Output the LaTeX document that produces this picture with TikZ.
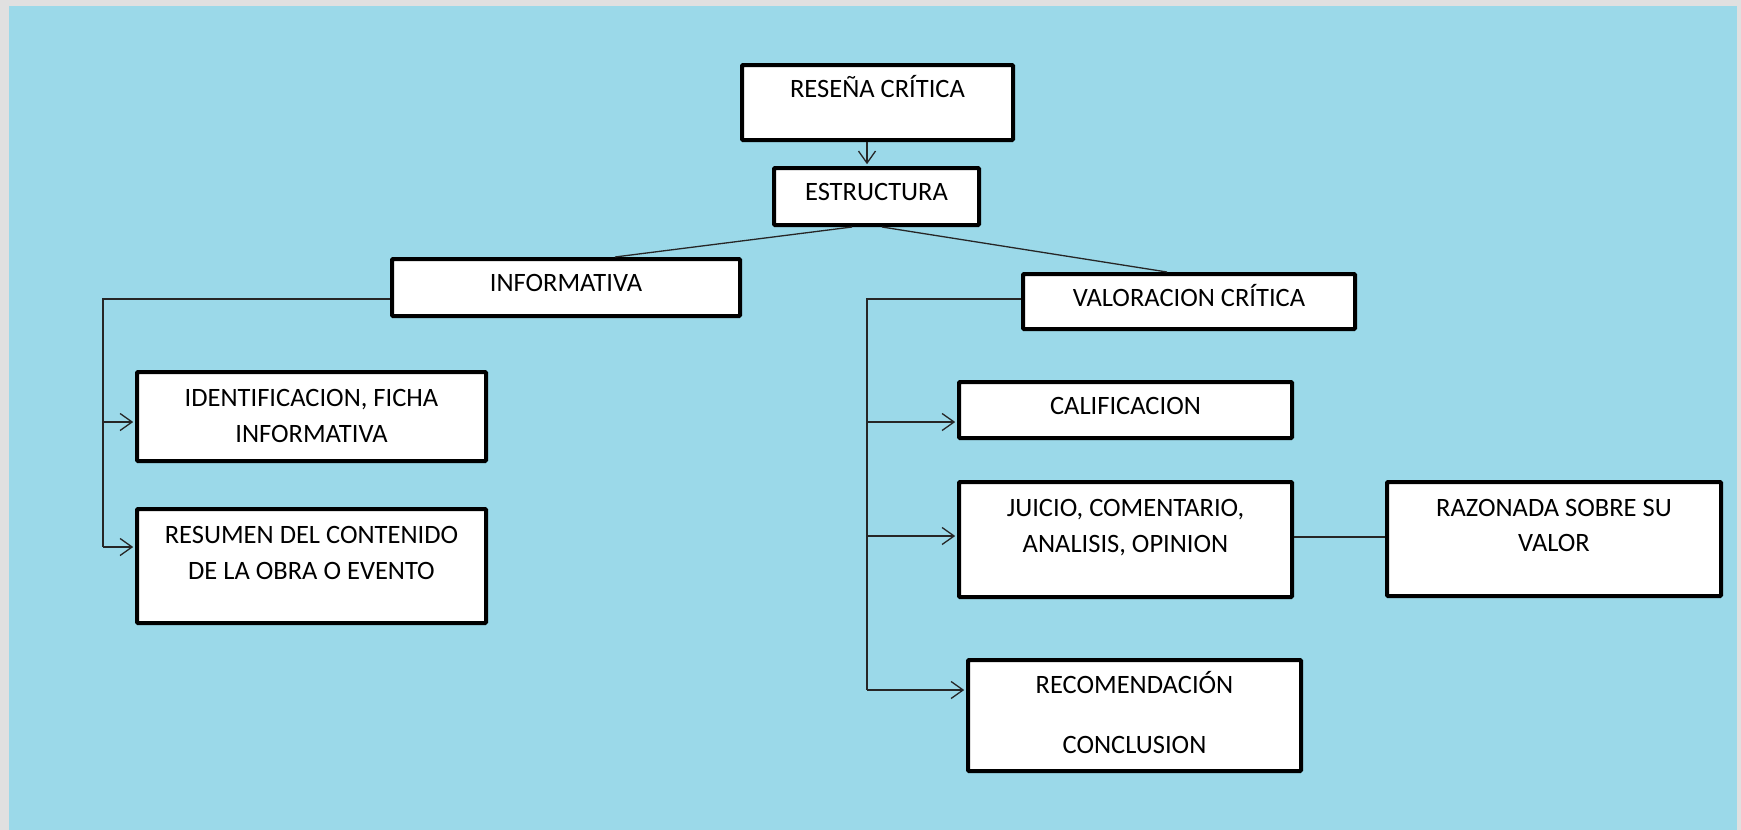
\documentclass[tikz,border=0pt]{standalone}
\usepackage{fontspec}
\setmainfont{Carlito}
\usetikzlibrary{arrows.meta,calc}
\definecolor{bgblue}{RGB}{155,217,233}
\definecolor{framegray}{RGB}{224,224,224}
\begin{document}
\begin{tikzpicture}[x=1pt,y=-1pt,
  box/.style={draw=black, line width=4pt, fill=white, rectangle, rounded corners=1pt, inner sep=0pt},
  txt/.style={anchor=base, inner sep=0pt, font=\fontsize{26.5}{30}\selectfont, text=black},
  conn/.style={line width=1.3pt, draw=black!85},
  arr/.style={conn, shorten >=1.8pt, -{Straight Barb[length=12pt,width=17pt]}}]
\useasboundingbox (0,0) rectangle (1741,830);
\fill[framegray] (0,0) rectangle (1741,830);
\fill[bgblue] (9,6) rectangle (1737,830);

% boxes
\node[box, minimum width=271pt, minimum height=75pt]  (resena) at (877.5,102.5) {};
\node[box, minimum width=205pt, minimum height=57pt]  (estr)   at (876.5,196.5) {};
\node[box, minimum width=348pt, minimum height=57pt]  (inf)    at (566,287.5) {};
\node[box, minimum width=349pt, minimum height=89pt]  (ident)  at (311.5,416.5) {};
\node[box, minimum width=349pt, minimum height=114pt] (resum)  at (311.5,566) {};
\node[box, minimum width=332pt, minimum height=55pt]  (valor)  at (1189,301.5) {};
\node[box, minimum width=333pt, minimum height=56pt]  (calif)  at (1125.5,410) {};
\node[box, minimum width=333pt, minimum height=115pt] (juicio) at (1125.5,539.5) {};
\node[box, minimum width=334pt, minimum height=114pt] (razon)  at (1554,539) {};
\node[box, minimum width=333pt, minimum height=111pt] (recom)  at (1134.5,715.5) {};

% texts
\node[txt] (t1)  at (877.5,97)  {RESEÑA CRÍTICA};
\node[txt] (t2)  at (876.5,200) {ESTRUCTURA};
\node[txt] (t3)  at (566,291)   {INFORMATIVA};
\node[txt] (t4a) at (311.5,406) {IDENTIFICACION, FICHA};
\node[txt] (t4b) at (311.5,442) {INFORMATIVA};
\node[txt] (t5a) at (311.5,543) {RESUMEN DEL CONTENIDO};
\node[txt] (t5b) at (311.5,579) {DE LA OBRA O EVENTO};
\node[txt] (t6)  at (1189,306)  {VALORACION CRÍTICA};
\node[txt] (t7)  at (1125.5,414) {CALIFICACION};
\node[txt] (t8a) at (1125.5,516) {JUICIO, COMENTARIO,};
\node[txt] (t8b) at (1125.5,552) {ANALISIS, OPINION};
\node[txt] (t9a) at (1554,516)  {RAZONADA SOBRE SU};
\node[txt] (t9b) at (1554,551)  {VALOR};
\node[txt] (t10a) at (1134.5,693) {RECOMENDACIÓN};
\node[txt] (t10b) at (1134.5,753) {CONCLUSION};

% helper coordinates
\coordinate (xa) at (867,0);
\coordinate (el) at (852,0);
\coordinate (er) at (882,0);
\coordinate (il) at (615,0);
\coordinate (vr) at (1167,0);
\coordinate (lt) at (103,299);
\coordinate (la1) at (103,422);
\coordinate (la2) at (103,547);
\coordinate (rt) at (867,299);
\coordinate (ra1) at (867,422);
\coordinate (ra2) at (867,536);
\coordinate (ra3) at (867,690);
\coordinate (jr) at (0,537);

% connectors
\draw[arr] (resena.south -| xa) -- (estr.north -| xa);
\draw[conn] (estr.south -| el) -- (inf.north -| il);
\draw[conn] (estr.south -| er) -- (valor.north -| vr);

\draw[conn] (inf.west |- lt) -- (lt) -- (la2);
\draw[arr] (la1) -- (ident.west |- la1);
\draw[arr] (la2) -- (resum.west |- la2);

\draw[conn] (valor.west |- rt) -- (rt) -- (ra3);
\draw[arr] (ra1) -- (calif.west |- ra1);
\draw[arr] (ra2) -- (juicio.west |- ra2);
\draw[arr] (ra3) -- (recom.west |- ra3);

\draw[conn] (juicio.east |- jr) -- (razon.west |- jr);
\end{tikzpicture}
\end{document}
